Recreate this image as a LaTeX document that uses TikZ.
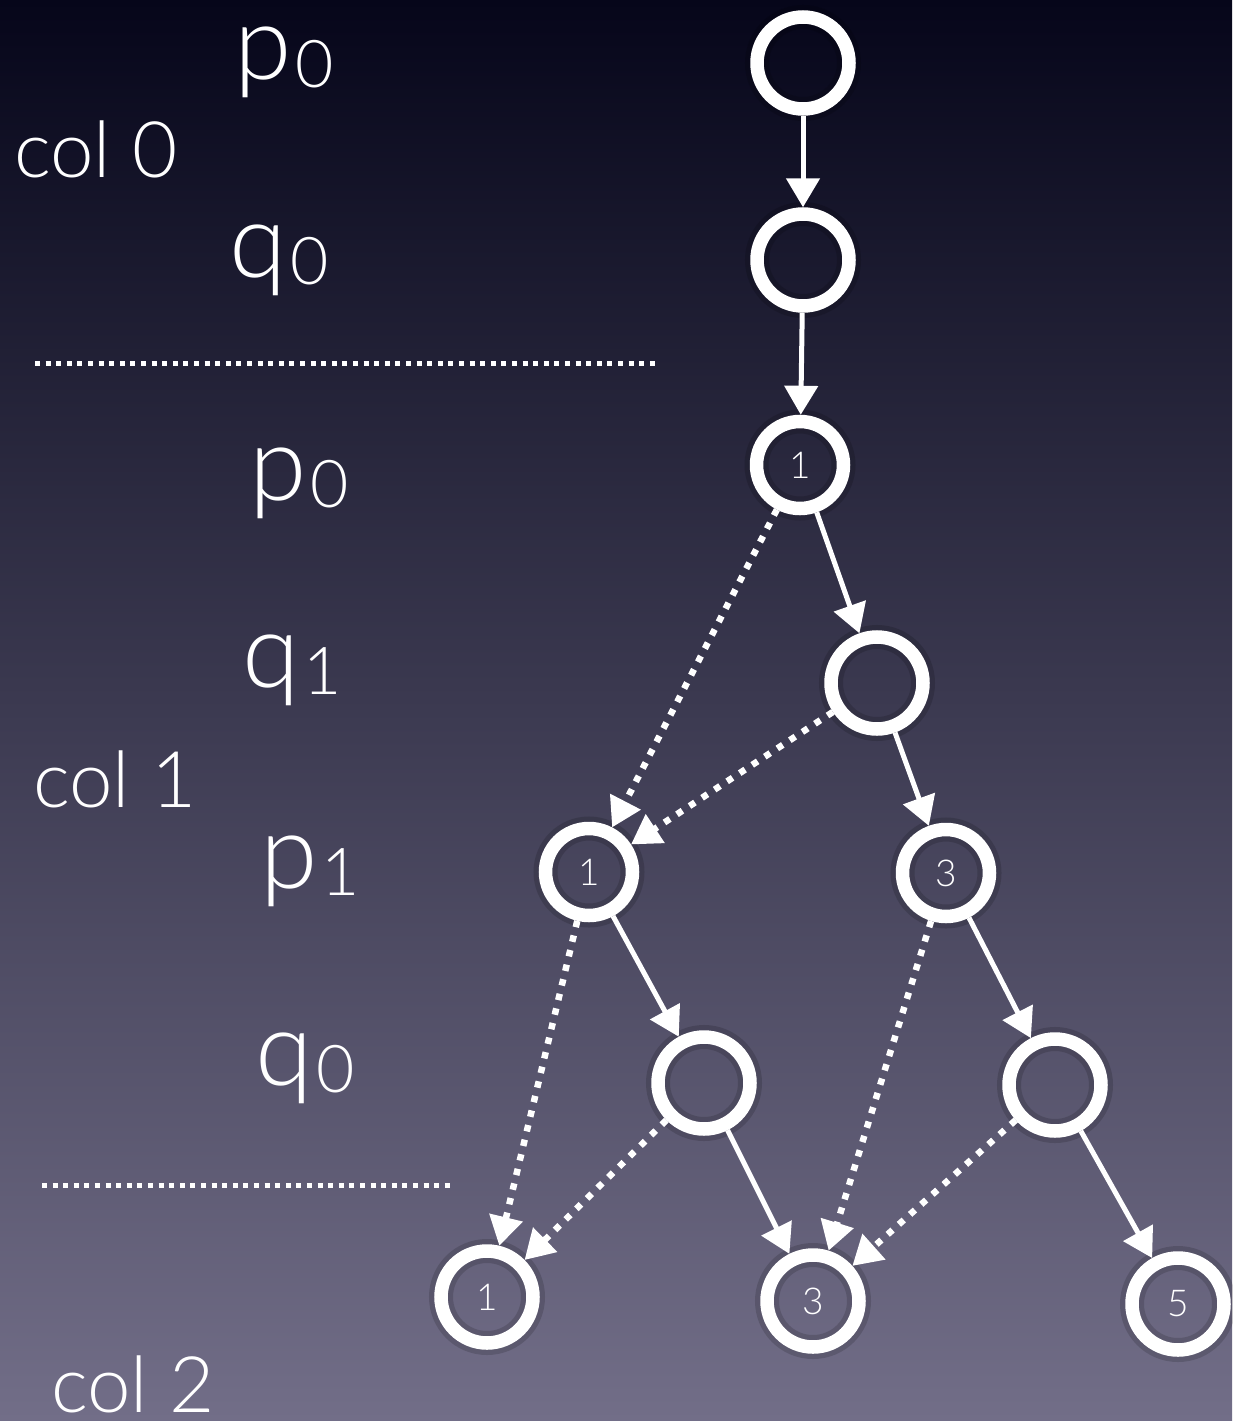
\documentclass[tikz,border=0pt]{standalone}
\usepackage{fontspec}
\setmainfont{Lato}[UprightFont=* Light]
\usetikzlibrary{arrows.meta}
\definecolor{bgtop}{HTML}{06061A}
\definecolor{bgmid}{HTML}{3A3A5E}
\definecolor{bgbot}{HTML}{726E88}
\newcommand\PQ[2]{\fontsize{104}{104}\selectfont #1\hspace{4pt}\raisebox{-7pt}{\fontsize{66}{66}\selectfont #2}}
\newcommand\COL[1]{\fontsize{78}{78}\selectfont col #1}
\begin{document}
\begin{tikzpicture}[x=1pt,y=-1pt,
  ring/.style={circle, draw=white, line width=13.5pt, minimum size=92pt, inner sep=0pt,
    text=white, font=\fontsize{37}{37}\selectfont,
    preaction={draw=black, draw opacity=0.15, line width=24pt}},
  smallring/.style={ring, minimum size=87pt},
  lbl/.style={anchor=base west, inner sep=0pt, text=white},
  solidarrow/.style={draw=white, line width=5pt, -{Triangle[length=29pt,width=33pt]}},
  dotarrow/.style={draw=white, line width=6.5pt, dash pattern=on 6.5pt off 8.5pt, -{Triangle[length=29pt,width=33pt]}},
  sep/.style={draw=white, line width=5pt, dash pattern=on 5pt off 5.6pt}]
\useasboundingbox (0,0) rectangle (1232,1421);
\shade[top color=bgtop, middle color=bgmid, bottom color=bgbot] (0,0) rectangle (1232,1421);

% labels
\node[lbl] (l1) at (234,80) {\PQ{p}{0}};
\node[lbl] (l2) at (229,277) {\PQ{q}{0}};
\node[lbl] (l3) at (249,500) {\PQ{p}{0}};
\node[lbl] (l4) at (242,687) {\PQ{q}{1}};
\node[lbl] (l5) at (260,888) {\PQ{p}{1}};
\node[lbl] (l6) at (255,1085) {\PQ{q}{0}};
\node[lbl] (c0) at (14,177) {\COL{0}};
\node[lbl] (c1) at (33,807) {\COL{1}};
\node[lbl] (c2) at (51,1412) {\COL{2}};

% separators
\coordinate (s1a) at (35,363);
\coordinate (s1b) at (660,363);
\coordinate (s2a) at (42,1185);
\coordinate (s2b) at (455,1185);
\draw[sep] (s1a) -- (s1b);
\draw[sep] (s2a) -- (s2b);

% nodes
\node[ring] (A) at (803,63) {};
\node[ring] (B) at (803,260) {};
\node[smallring] (C) at (800,465) {1};
\node[ring] (D) at (877,683) {};
\node[smallring] (E) at (589,872) {1};
\node[smallring] (F) at (946,873) {3};
\node[ring] (G) at (704,1083) {};
\node[ring] (H) at (1055,1085) {};
\node[ring] (I) at (487,1297) {1};
\node[ring] (J) at (813,1301) {3};
\node[ring] (K) at (1178,1304) {5};

% edges
\draw[solidarrow] (A) -- (B);
\draw[solidarrow] (B) -- (C);
\draw[solidarrow] (C) -- (D);
\draw[dotarrow] (C) -- (E);
\draw[dotarrow] (D) -- (E);
\draw[solidarrow] (D) -- (F);
\draw[solidarrow] (E) -- (G);
\draw[dotarrow] (E) -- (I);
\draw[solidarrow] (F) -- (H);
\draw[dotarrow] (F) -- (J);
\draw[dotarrow] (G) -- (I);
\draw[solidarrow] (G) -- (J);
\draw[dotarrow] (H) -- (J);
\draw[solidarrow] (H) -- (K);
\end{tikzpicture}
\end{document}
